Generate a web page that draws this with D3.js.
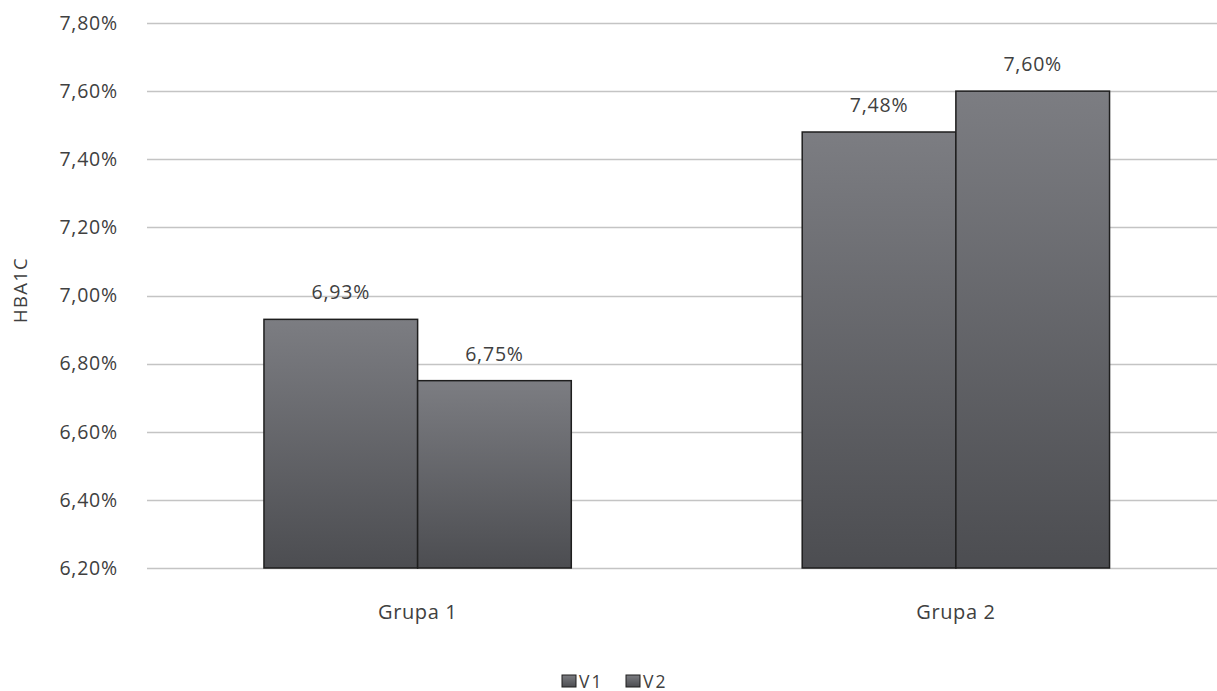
<!DOCTYPE html>
<html><head><meta charset="utf-8">
<script src="https://cdn.jsdelivr.net/npm/d3@7"></script>
<style>body{margin:0;background:#fff}text{font-family:"Open Sans",sans-serif;fill:#404040}</style>
</head><body><svg id="c" width="1217" height="691"></svg>
<script>
const categories = ["Grupa 1", "Grupa 2"];
const seriesNames = ["V1", "V2"];
const v1 = [6.93, 7.48];
const v2 = [6.75, 7.60];
const yTicks = [6.2, 6.4, 6.6, 6.8, 7.0, 7.2, 7.4, 7.6, 7.8];
const yTitle = "HBA1C";

const W = 1217, H = 691;
const svg = d3.select("#c");
const fmt = v => v.toFixed(2).replace(".", ",") + "%";

const x = d3.scaleBand().domain(categories).range([148.5, 1225]).paddingInner(0).paddingOuter(0);
const y = d3.scaleLinear().domain([6.2, 7.8]).range([568, 23]);
const groupW = x.bandwidth() * 0.571;
const xs = d3.scaleBand().domain(seriesNames).range([0, groupW]);

const defs = svg.append("defs");
const g = defs.append("linearGradient").attr("id", "bg").attr("x1", 0).attr("y1", 0).attr("x2", 0).attr("y2", 1);
g.append("stop").attr("offset", "0%").attr("stop-color", "#7c7d82");
g.append("stop").attr("offset", "100%").attr("stop-color", "#4c4d51");

// gridlines
svg.append("g").selectAll("line").data(yTicks).join("line")
  .attr("x1", 147).attr("x2", W).attr("y1", d => Math.round(y(d)) + 0.5).attr("y2", d => Math.round(y(d)) + 0.5)
  .attr("stroke", "#c4c4c4").attr("stroke-width", 1.3);

// y axis labels
const yAxis = d3.axisLeft(y).tickValues(yTicks).tickFormat(fmt).tickSize(0).tickPadding(0);
const ya = svg.append("g").attr("transform", "translate(118,0)").call(yAxis);
ya.select(".domain").remove();
ya.selectAll("text").style("font-size", "19.5px").style("font-family", "'Open Sans', sans-serif")
  .style("letter-spacing", "0.8px").attr("fill", "#404040");

// y title
svg.append("text").attr("transform", "translate(27,290) rotate(-90)").attr("text-anchor", "middle")
  .style("font-size", "18.5px").style("letter-spacing", "1.3px").text(yTitle);

const data = categories.map((c, i) => ({cat: c, vals: [{s: "V1", v: v1[i]}, {s: "V2", v: v2[i]}]}));
const grp = svg.append("g").selectAll("g").data(data).join("g")
  .attr("transform", d => `translate(${x(d.cat) + (x.bandwidth() - groupW) / 2},0)`);
grp.selectAll("rect").data(d => d.vals).join("rect")
  .attr("x", d => xs(d.s)).attr("width", xs.bandwidth())
  .attr("y", d => y(d.v)).attr("height", d => y(6.2) - y(d.v))
  .attr("fill", "url(#bg)").attr("stroke", "#1e1e1e").attr("stroke-width", 1.5);
grp.selectAll("text").data(d => d.vals).join("text")
  .attr("x", d => xs(d.s) + xs.bandwidth() / 2).attr("y", d => y(d.v) - 20)
  .attr("text-anchor", "middle").style("font-size", "19.5px").style("letter-spacing", "0.8px").text(d => fmt(d.v));

// x axis labels
const xAxis = d3.axisBottom(x).tickSize(0).tickPadding(0);
const xa = svg.append("g").attr("transform", "translate(0,619)").call(xAxis);
xa.select(".domain").remove();
xa.selectAll("text").attr("dy", 0).style("font-size", "20px").style("font-family", "'Open Sans', sans-serif")
  .style("letter-spacing", "0.6px").attr("fill", "#404040");

// legend
const legX = [562, 626];
const lg = svg.append("g").selectAll("g").data(seriesNames).join("g")
  .attr("transform", (d, i) => `translate(${legX[i]},675)`);
lg.append("rect").attr("width", 14).attr("height", 12).attr("fill", "url(#bg)").attr("stroke", "#1e1e1e").attr("stroke-width", 1);
lg.append("text").attr("x", 17).attr("y", 12.5).style("font-size", "17.5px").style("letter-spacing", "2px").text(d => d);
</script></body></html>
